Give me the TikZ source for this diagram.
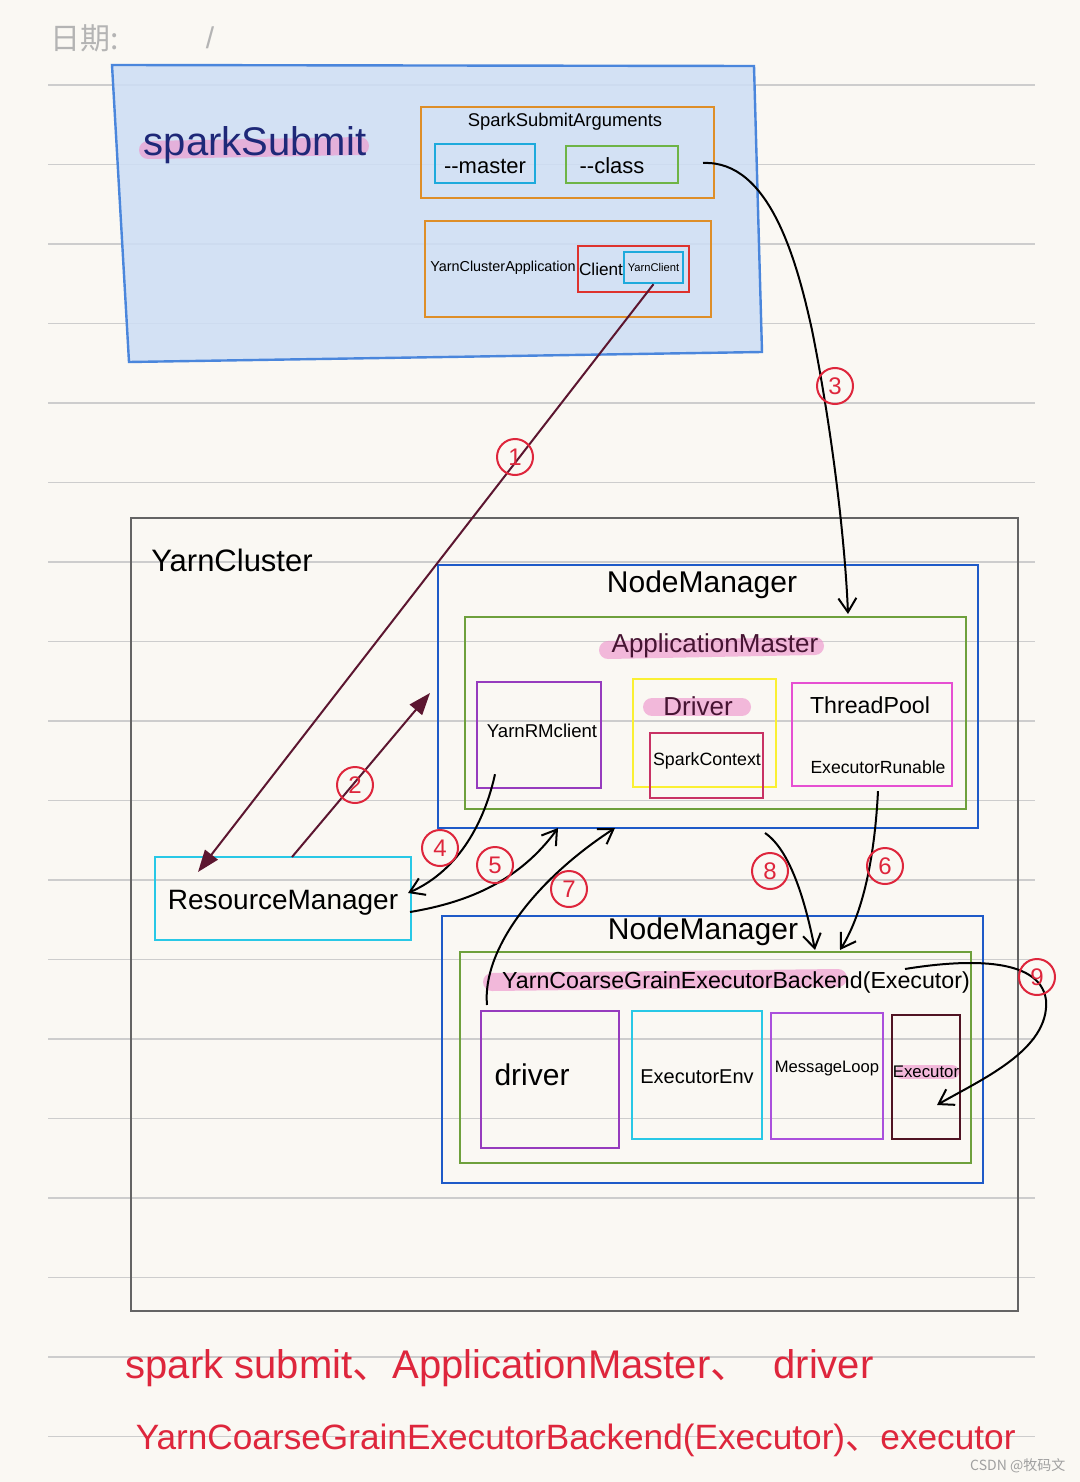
\documentclass[tikz,border=0pt]{standalone}
\usepackage{fontspec}
\setmainfont{Liberation Sans}
\newfontfamily\cjkfont{Noto Sans CJK SC}
\usetikzlibrary{fit,arrows.meta}

\tikzset{every picture/.style={line width=0.75pt}}
\tikzset{
  frame/.style={draw, line width=1.2pt, inner sep=0pt},
  numcircle/.style={circle, draw={rgb, 255:red, 222; green, 38; blue, 60}, text={rgb, 255:red, 222; green, 38; blue, 60}, line width=1pt, minimum size=18pt, inner sep=0pt, font=\fontsize{12}{12}\selectfont},
  rmarrow/.style={draw={rgb, 255:red, 92; green, 22; blue, 48}, line width=1pt, -{Triangle[length=11pt,width=8pt]}},
  handarrow/.style={draw=black, line width=1pt, -{Straight Barb[length=7pt,width=9pt]}},
  marker/.style={line width=9pt, line cap=round, draw={rgb, 255:red, 238; green, 150; blue, 205}, opacity=0.65},
  redtext/.style={anchor=west, inner sep=0pt, text={rgb, 255:red, 222; green, 38; blue, 60}},
}

\begin{document}
\begin{tikzpicture}[x=0.5pt,y=-0.5pt]
%paper
\useasboundingbox [fill={rgb, 255:red, 250; green, 248; blue, 243}] (0,0) rectangle (1080,1482);
%ruled lines
\foreach \k in {0,...,17}
  \draw [draw={rgb, 255:red, 205; green, 205; blue, 205}] (48,85+79.5*\k) -- (1035,85+79.5*\k);

% Text Node
\node [anchor=west, inner sep=0pt, text={rgb, 255:red, 180; green, 180; blue, 180}, font=\cjkfont\fontsize{15}{15}\selectfont] (date) at (50,38) {日期:};
\node [inner sep=0pt, text={rgb, 255:red, 180; green, 180; blue, 180}, font=\fontsize{15}{15}\selectfont] (slash) at (210,38) {/};

%Shape: SparkSubmit
\draw [draw={rgb, 255:red, 74; green, 134; blue, 220}, fill={rgb, 255:red, 205; green, 222; blue, 245}, fill opacity=0.85, line width=1.2pt] (112,65) -- (754,66) -- (762,352) -- (129,362) -- cycle;
\draw [marker] (148,150) -- (360,146);
\node [text={rgb, 255:red, 30; green, 40; blue, 120}, font=\fontsize{20}{20}\selectfont] (spark) at (255,145) {sparkSubmit};

%Flowchart: SparkSubmitArguments
\node [frame, draw={rgb, 255:red, 222; green, 142; blue, 40}, fit={(421,107) (714,198)}] (args) {};
\node [font=\fontsize{9.2}{9.2}\selectfont] (argst) at (565,122) {SparkSubmitArguments};
\node [frame, draw={rgb, 255:red, 30; green, 170; blue, 220}, fit={(435,144) (535,183)}] (master) {};
\node [font=\fontsize{11}{11}\selectfont] (mastert) at (485,166) {-{}-master};
\node [frame, draw={rgb, 255:red, 110; green, 180; blue, 70}, fit={(566,146) (678,183)}] (class) {};
\node [font=\fontsize{11}{11}\selectfont] (classt) at (612,166) {-{}-class};

%Flowchart: YarnClusterApplication
\node [frame, draw={rgb, 255:red, 222; green, 142; blue, 40}, fit={(425,221) (711,317)}] (yca) {};
\node [font=\fontsize{7.2}{7.2}\selectfont] (ycat) at (503,268) {YarnClusterApplication};
\node [frame, draw={rgb, 255:red, 222; green, 50; blue, 45}, fit={(578,246) (689,292)}] (client) {};
\node [font=\fontsize{8.6}{8.6}\selectfont] (clientt) at (601,269) {Client};
\node [frame, draw={rgb, 255:red, 30; green, 170; blue, 220}, fit={(624,252) (683,283)}] (yc) {};
\node [font=\fontsize{5.6}{5.6}\selectfont] (yct) at (yc.center) {YarnClient};

%Flowchart: YarnCluster
\node [frame, draw={rgb, 255:red, 100; green, 100; blue, 100}, fit={(131,518) (1018,1311)}] (cluster) {};
\node [font=\fontsize{15.5}{15.5}\selectfont] (clustert) at (232,560) {YarnCluster};

%Flowchart: ResourceManager
\node [frame, draw={rgb, 255:red, 40; green, 200; blue, 230}, fit={(155,857) (411,940)}] (rm) {};
\node [font=\fontsize{14}{14}\selectfont] (rmt) at (283,903) {ResourceManager};

%Flowchart: NodeManager (ApplicationMaster)
\node [frame, draw={rgb, 255:red, 30; green, 90; blue, 200}, fit={(438,565) (978,828)}] (nm1) {};
\node [font=\fontsize{15}{15}\selectfont] (nm1t) at (702,585) {NodeManager};
\node [frame, draw={rgb, 255:red, 110; green, 160; blue, 60}, fit={(465,617) (966,809)}] (am) {};
\draw [marker] (608,650) -- (815,646);
\node [text={rgb, 255:red, 70; green, 20; blue, 50}, font=\fontsize{13}{13}\selectfont] (amt) at (715,646) {ApplicationMaster};
\node [frame, draw={rgb, 255:red, 150; green, 60; blue, 190}, fit={(477,682) (601,788)}] (rmclient) {};
\node [font=\fontsize{9.3}{9.3}\selectfont] (rmclientt) at (542,731) {YarnRMclient};
\node [frame, draw={rgb, 255:red, 250; green, 240; blue, 50}, fit={(633,679) (776,787)}] (driver) {};
\draw [marker] (652,707) -- (742,707);
\node [text={rgb, 255:red, 70; green, 20; blue, 50}, font=\fontsize{13}{13}\selectfont] (drivert) at (698,706) {Driver};
\node [frame, draw={rgb, 255:red, 200; green, 50; blue, 100}, fit={(650,733) (763,798)}] (sc) {};
\node [font=\fontsize{8.9}{8.9}\selectfont] (sct) at (707,761) {SparkContext};
\node [frame, draw={rgb, 255:red, 230; green, 80; blue, 210}, fit={(792,683) (952,786)}] (pool) {};
\node [font=\fontsize{11.6}{11.6}\selectfont] (poolt) at (870,705) {ThreadPool};
\node [font=\fontsize{8.8}{8.8}\selectfont] (runable) at (878,767) {ExecutorRunable};

%Flowchart: NodeManager (Executor)
\node [frame, draw={rgb, 255:red, 30; green, 90; blue, 200}, fit={(442,916) (983,1183)}] (nm2) {};
\node [font=\fontsize{15}{15}\selectfont] (nm2t) at (703,932) {NodeManager};
\node [frame, draw={rgb, 255:red, 110; green, 160; blue, 60}, fit={(460,952) (971,1163)}] (backend) {};
\draw [marker] (492,982) -- (838,978);
\node [font=\fontsize{11.6}{11.6}\selectfont] (backendt) at (736,982) {YarnCoarseGrainExecutorBackend(Executor)};
\node [frame, draw={rgb, 255:red, 150; green, 60; blue, 190}, fit={(481,1011) (619,1148)}] (edriver) {};
\node [font=\fontsize{15}{15}\selectfont] (edrivert) at (532,1075) {driver};
\node [frame, draw={rgb, 255:red, 40; green, 200; blue, 230}, fit={(632,1011) (762,1139)}] (env) {};
\node [font=\fontsize{10}{10}\selectfont] (envt) at (697,1077) {ExecutorEnv};
\node [frame, draw={rgb, 255:red, 170; green, 80; blue, 220}, fit={(771,1013) (883,1139)}] (loop) {};
\node [font=\fontsize{8.3}{8.3}\selectfont] (loopt) at (827,1069) {MessageLoop};
\node [frame, draw={rgb, 255:red, 80; green, 20; blue, 35}, fit={(892,1015) (960,1139)}] (exec) {};
\draw [marker, line width=7pt] (902,1072) -- (952,1072);
\node [font=\fontsize{8.4}{8.4}\selectfont] (exect) at (926,1072) {Executor};

%free ends
\coordinate (rmin) at (198,872);
\coordinate (rmout) at (292,857);
\coordinate (nmleft) at (430,693);
\coordinate (rmright1) at (408,893);
\coordinate (rmright2) at (410,912);
\coordinate (nmbot1) at (558,828);
\coordinate (nmbot2) at (615,828);
\coordinate (nmbot3) at (765,833);
\coordinate (amtop) at (848,614);
\coordinate (bktop1) at (815,950);
\coordinate (bktop2) at (840,950);
\coordinate (bkleft) at (487,1005);
\coordinate (bkright) at (905,969);
\coordinate (classout) at (703,163);
\coordinate (execin) at (937,1105);

%Straight Lines (1) (2)
\draw [rmarrow] (yc.south) -- (rmin);
\draw [rmarrow] (rmout) -- (nmleft);
%Curve Lines (3)
\draw [handarrow] (classout) .. controls (770,160) and (797,262) .. (812,330) .. controls (832,430) and (845,540) .. (amtop);
%Curve Lines (4) (5)
\draw [handarrow] (rmclient.south -| 495,0) ++(0,-15) .. controls (485,820) and (460,870) .. (rmright1);
\draw [handarrow] (rmright2) .. controls (470,902) and (520,880) .. (nmbot1);
%Curve Lines (6) (7) (8)
\draw [handarrow] (pool.south -| 878,0) ++(0,4) .. controls (875,850) and (865,910) .. (bktop2);
\draw [handarrow] (bkleft) .. controls (482,950) and (535,880) .. (nmbot2);
\draw [handarrow] (nmbot3) .. controls (790,850) and (805,900) .. (bktop1);
%Curve Lines (9)
\draw [handarrow] (bkright) .. controls (960,960) and (1040,955) .. (1046,1000) .. controls (1050,1050) and (980,1080) .. (execin);

%numbers
\node [numcircle] (n1) at (515,457) {1};
\node [numcircle] (n2) at (355,785) {2};
\node [numcircle] (n3) at (835,386) {3};
\node [numcircle] (n4) at (440,848) {4};
\node [numcircle] (n5) at (495,865) {5};
\node [numcircle] (n6) at (885,866) {6};
\node [numcircle] (n7) at (569,889) {7};
\node [numcircle] (n8) at (770,871) {8};
\node [numcircle] (n9) at (1037,977) {9};

% Text Node
\node [redtext, font=\fontsize{20}{20}\selectfont] (sum1) at (125,1368) {spark submit{\cjkfont 、}ApplicationMaster{\cjkfont 、}\hspace{6pt} driver};
\node [redtext, font=\fontsize{17.6}{17.6}\selectfont] (sum2) at (135,1440) {YarnCoarseGrainExecutorBackend(Executor){\cjkfont 、}executor};
\node [anchor=east, inner sep=0pt, text={rgb, 255:red, 160; green, 160; blue, 160}, font=\cjkfont\fontsize{7}{7}\selectfont] (mark) at (1066,1466) {CSDN @牧码文};
\end{tikzpicture}
\end{document}
